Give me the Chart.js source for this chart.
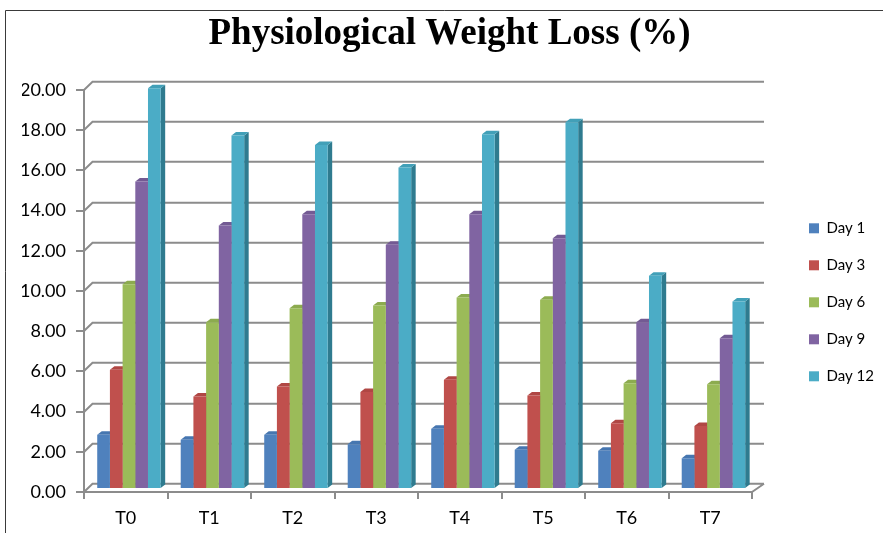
<!DOCTYPE html>
<html>
<head>
<meta charset="utf-8">
<title>Physiological Weight Loss (%)</title>
<script src="https://cdn.jsdelivr.net/npm/chart.js@4.4.1/dist/chart.umd.min.js"></script>
<style>
  html, body { margin: 0; padding: 0; background: #ffffff; overflow: hidden; }
  #wrap { position: relative; width: 883px; height: 533px; }
  canvas { display: block; }
</style>
</head>
<body>
<div id="wrap"><canvas id="chart" width="883" height="533"></canvas></div>
<script>
// Treatments on the category axis
const treatments = ['T0', 'T1', 'T2', 'T3', 'T4', 'T5', 'T6', 'T7'];

// Weight loss (%) per storage day
const day1  = [2.70, 2.45, 2.70, 2.23, 3.00, 1.95, 1.90, 1.53];
const day3  = [5.93, 4.60, 5.10, 4.82, 5.43, 4.65, 3.27, 3.14];
const day6  = [10.19, 8.30, 8.99, 9.13, 9.53, 9.41, 5.26, 5.21];
const day9  = [15.30, 13.11, 13.67, 12.15, 13.67, 12.48, 8.30, 7.50];
const day12 = [19.94, 17.59, 17.12, 16.00, 17.65, 18.25, 10.61, 9.33];

const seriesNames = ['Day 1', 'Day 3', 'Day 6', 'Day 9', 'Day 12'];
const seriesValues = [day1, day3, day6, day9, day12];

// Value axis ticks
const yTicks = [0, 2, 4, 6, 8, 10, 12, 14, 16, 18, 20];

// Face colours: front, top, side
const frontColors = ['#4f81bd', '#c0504d', '#9bbb59', '#8064a2', '#4bacc6'];
const topColors   = ['#4676b0', '#b04744', '#8cab4f', '#735a93', '#42a0b8'];
const sideColors  = ['#34557d', '#84332f', '#66803a', '#55416d', '#2f7b8f'];

// Depth of the walls/floor and of each column
const WALL_DX_L = 8.5, WALL_DX_R = 12, WALL_DY = 8.3;
const BAR_SHIFT_X = 3.2, BAR_SHIFT_Y = -3;
const BAR_DX = 4.5, BAR_DY = 3.5;
const LINE_GREY = '#8c8c8c';

const depthPlugin = {
  id: 'depth3d',
  beforeDraw(chart) {
    const ctx = chart.ctx;
    ctx.save();
    ctx.strokeStyle = '#3a3a3a';
    ctx.lineWidth = 1;
    ctx.beginPath();
    ctx.moveTo(5.5, chart.height);
    ctx.lineTo(5.5, 10.5);
    ctx.lineTo(chart.width, 10.5);
    ctx.stroke();
    ctx.restore();
  },
  beforeDatasetsDraw(chart) {
    const { ctx, chartArea: a, scales } = chart;
    const y = scales.y;
    // back wall gridlines with the side-wall connectors, plus the floor edge
    ctx.save();
    ctx.strokeStyle = LINE_GREY;
    ctx.lineWidth = 2;
    ctx.beginPath();
    yTicks.forEach(v => {
      const py = Math.round(y.getPixelForValue(v));
      ctx.moveTo(a.left, py);
      ctx.lineTo(a.left + WALL_DX_L, py - WALL_DY);
      ctx.lineTo(a.right + WALL_DX_R, py - WALL_DY);
    });
    const pb = Math.round(y.getPixelForValue(0));
    ctx.moveTo(a.right, pb);
    ctx.lineTo(a.right + WALL_DX_R, pb - WALL_DY);
    ctx.stroke();
    ctx.restore();

    // columns stand a little behind the front plane
    ctx.save();
    ctx.translate(BAR_SHIFT_X, BAR_SHIFT_Y);
    chart.data.datasets.forEach((ds, di) => {
      const meta = chart.getDatasetMeta(di);
      meta.data.forEach(bar => {
        const p = bar.getProps(['x', 'y', 'base', 'width'], true);
        const l = p.x - p.width / 2, r = p.x + p.width / 2;
        const top = p.y, base = p.base;
        ctx.fillStyle = sideColors[di];
        ctx.beginPath();
        ctx.moveTo(r, base);
        ctx.lineTo(r, top);
        ctx.lineTo(r + BAR_DX, top - BAR_DY);
        ctx.lineTo(r + BAR_DX, base - BAR_DY);
        ctx.closePath();
        ctx.fill();
        ctx.fillStyle = topColors[di];
        ctx.beginPath();
        ctx.moveTo(l, top);
        ctx.lineTo(r, top);
        ctx.lineTo(r + BAR_DX, top - BAR_DY);
        ctx.lineTo(l + BAR_DX, top - BAR_DY);
        ctx.closePath();
        ctx.fill();
      });
    });
  },
  afterDatasetsDraw(chart) {
    chart.ctx.restore();
  }
};

Chart.defaults.font.family = 'Lato, "Open Sans", sans-serif';
Chart.defaults.color = '#000000';

new Chart(document.getElementById('chart'), {
  type: 'bar',
  data: {
    labels: treatments,
    datasets: seriesNames.map((name, i) => ({
      label: name,
      data: seriesValues[i],
      backgroundColor: frontColors[i],
      borderWidth: 0
    }))
  },
  options: {
    responsive: false,
    animation: false,
    devicePixelRatio: 1,
    categoryPercentage: 0.76,
    barPercentage: 1.0,
    layout: { padding: { left: 22, right: 6, top: 0, bottom: 0 } },
    plugins: {
      title: {
        display: true,
        text: 'Physiological Weight Loss (%)',
        color: '#000000',
        font: { family: '"Liberation Serif", "Times New Roman", serif', size: 37, weight: 'bold', lineHeight: 1.2 },
        padding: { top: 12, bottom: 33.6 }
      },
      legend: {
        position: 'right',
        fullSize: false,
        maxWidth: 90,
        title: { display: true, text: '', font: { size: 12, lineHeight: 1 }, padding: { top: 0, bottom: 10.6 } },
        labels: {
          boxWidth: 10,
          boxHeight: 10,
          padding: 22,
          color: '#000000',
          font: { size: 15 }
        }
      },
      tooltip: { enabled: false }
    },
    scales: {
      x: {
        offset: true,
        grid: { offset: true, drawOnChartArea: false, drawTicks: true, tickLength: 7, color: LINE_GREY, lineWidth: 2 },
        border: { display: true, color: LINE_GREY, width: 2 },
        ticks: { color: '#000000', font: { size: 18 }, padding: 8 },
        afterFit(s) { s.height = 41; }
      },
      y: {
        min: 0,
        max: 20,
        grid: { drawOnChartArea: false, drawTicks: true, tickLength: 8, color: LINE_GREY, lineWidth: 2 },
        border: { display: true, color: LINE_GREY, width: 2 },
        ticks: {
          stepSize: 2,
          color: '#000000',
          font: { size: 18 },
          padding: 10,
          callback: v => Number(v).toFixed(2)
        },
        afterFit(s) { s.width = 62; }
      },
      gap: {
        type: 'linear',
        position: 'right',
        display: true,
        grid: { display: false, drawTicks: false },
        border: { display: false },
        ticks: { display: false },
        afterFit(s) { s.width = 35; }
      }
    }
  },
  plugins: [depthPlugin]
});
</script>
</body>
</html>
